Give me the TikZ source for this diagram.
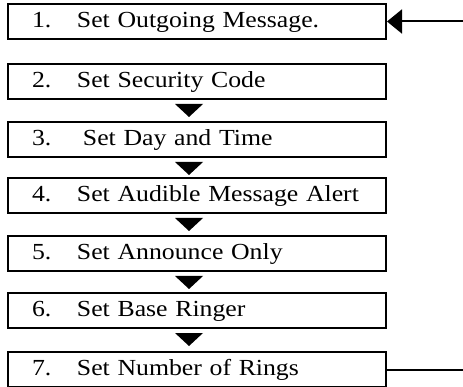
\documentclass[tikz,border=0pt]{standalone}
\usepackage{fontspec}
\setmainfont{Liberation Serif}[FakeStretch=1.12]
\usetikzlibrary{arrows.meta,calc}
\begin{document}
\begin{tikzpicture}[x=1pt,y=-1pt,
  stepbox/.style={draw, line width=2pt, minimum height=35pt, text width=330pt,
    inner xsep=24pt, inner ysep=0pt, align=left, text height=15pt, text depth=3pt,
    font=\fontsize{23}{26}\selectfont},
  link/.style={line width=2pt},
  tri/.style={fill=black}]
\useasboundingbox (0,0) rectangle (463,387);
\node[stepbox] (b1) at (197,21.5) {\makebox[45pt][l]{1.}Set Outgoing Message.};
\node[stepbox] (b2) at (197,81.5) {\makebox[45pt][l]{2.}Set Security Code};
\node[stepbox] (b3) at (197,139.5) {\makebox[51pt][l]{3.}Set Day and Time};
\node[stepbox] (b4) at (197,195.5) {\makebox[45pt][l]{4.}Set Audible Message Alert};
\node[stepbox] (b5) at (197,253.5) {\makebox[45pt][l]{5.}Set Announce Only};
\node[stepbox] (b6) at (197,310.5) {\makebox[45pt][l]{6.}Set Base Ringer};
\node[stepbox] (b7) at (197,369.5) {\makebox[45pt][l]{7.}Set Number of Rings};
\foreach \a in {b2,b3,b4,b5,b6}
  \fill[tri] ($(\a.south)+(-22,4)$) -- ($(\a.south)+(6,4)$) -- ($(\a.south)+(-8,17)$) -- cycle;
\coordinate (in1) at (463,21.5);
\coordinate (out7) at (463,369.5);
\draw[link,-{Triangle[width=24pt,length=15pt]}] (in1) -- (b1.east);
\draw[link] (b7.east) -- (out7);
\end{tikzpicture}
\end{document}
